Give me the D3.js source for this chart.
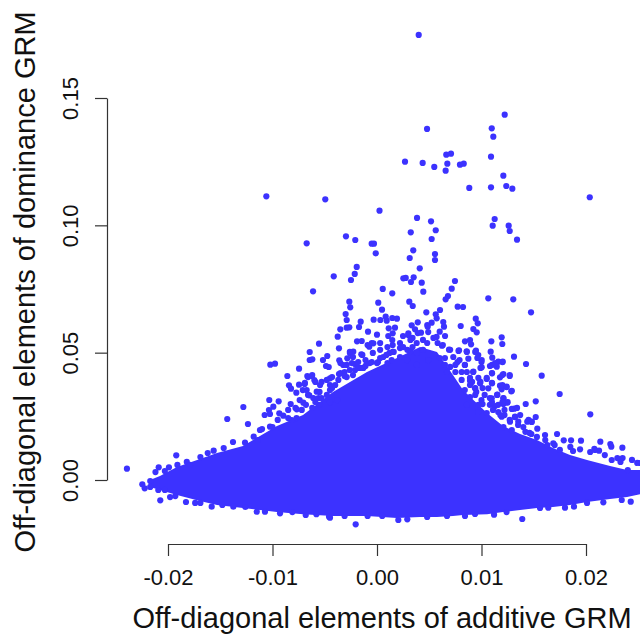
<!DOCTYPE html>
<html>
<head>
<meta charset="utf-8">
<script src="https://cdn.jsdelivr.net/npm/d3@7"></script>
<style>
body { margin: 0; background: #fff; }
svg { display: block; }
text { font-family: "Liberation Sans", Arial, sans-serif; fill: #111; }
</style>
</head>
<body>
<div id="my_dataviz"></div>
<script>
const xTicks = [-0.02, -0.01, 0, 0.01, 0.02];
const yTicks = [0, 0.05, 0.10, 0.15];
const xTitle = "Off-diagonal elements of additive GRM";
const yTitle = "Off-diagonal elements of dominance GRM";

// outline of the solid cloud
const cloudX = [-.02172,-.02077,-.01914,-.01694,-.01531,-.01282,-.01120,-.00957,-.00708,-.00421,-.00096,.00191,.00412,.00574,.00727,.00823,.01053,.01206,.01369,.01531,.01684,.01847,.02010,.02230,.02393,.02565];
const cloudTop = [0,.0016,.0051,.0082,.0106,.0134,.0173,.0212,.0255,.0346,.0424,.0479,.0522,.0503,.0412,.0353,.0263,.0212,.0181,.0157,.0126,.0098,.0079,.0055,.0039,.0039];
const cloudBottom = [-.0027,-.0039,-.0059,-.0082,-.0098,-.0110,-.0118,-.0126,-.0134,-.0141,-.0141,-.0149,-.0145,-.0145,-.0141,-.0137,-.0134,-.0126,-.0118,-.0110,-.0106,-.0098,-.0086,-.0075,-.0067,-.0051];

// single pairs that stand clear of the cloud
const topPairs = [[.00399,.17475],[.01222,.14345],[.01098,.13811],[.01113,.13481],[.00479,.13784],[.01091,.12696],[.00268,.12500],[.00437,.12449],[.00548,.12292],[.00663,.12775],[.00708,.12814],[.00673,.12421],[.00657,.12146],[.00794,.12382],[.00830,.12421],[.01209,.11950],[.01237,.11545],[.01295,.11439],[.01091,.11494],[.00883,.11467],[.02036,.11102],[.00024,.10575],[.00383,.10289],[.00517,.10159],[.00323,.09727],[.00562,.09806],[.00523,.09464],[.00347,.09020],[.00313,.08718],[.00555,.08875],[.00555,.08639],[.01126,.10249],[.01107,.09986],[.01260,.09986],[.01270,.09778],[.01340,.09437],[-.01059,.11141],[-.00495,.11023],[-.00297,.09570],[-.00208,.09425],[-.00673,.09295],[-.00051,.09279],[-.00029,.09279],[-.00012,.08902]];
const leftPairs = [[.00409,.08313],[-.00194,.08365],[-.00213,.08090],[-.00249,.07854],[-.00414,.07999],[-.00612,.07410],[.00252,.07921],[.00275,.07933],[.00351,.07960],[.00325,.07775],[.00428,.07748],[.00055,.07501],[.00146,.07332],[.00443,.07395],[-.00265,.07002],[-.00256,.06782],[.00012,.06963],[.00309,.07002],[.00342,.06833],[.00048,.06688],[-.00300,.06519],[-.00290,.06283],[.00472,.06586],[-.00156,.06216],[-.00172,.06008],[-.00032,.06295],[.00032,.06283],[.00083,.06413],[.00093,.06256],[.00146,.06362],[.00191,.06334],[.00390,.06193],[.00332,.06075],[.00481,.06087],[-.00351,.05918],[-.00376,.05627],[-.00290,.05981],[-.00265,.05997],[-.00086,.05824],[0,.05706],[.00112,.05957],[.00172,.05981],[.00150,.05761],[.00108,.05655],[.00364,.05918],[.00300,.05761],[.00421,.05784],[.00249,.05655],[.00146,.05498],[-.00555,.05353],[-.00644,.05027],[-.00191,.05447],[-.00146,.05459],[-.00035,.05368],[-.00074,.05235],[-.00364,.05172],[-.00644,.04712],[-.00619,.04740],[-.00476,.04869],[-.00517,.04712],[-.00361,.04701],[-.00227,.05038],[-.00258,.04975],[-.00284,.04779],[-.00150,.04936],[-.01021,.04528],[-.00976,.04567],[-.00746,.04371],[-.00488,.04477],[-.00462,.04438],[-.00858,.04084],[-.00667,.04084],[-.00622,.04084],[-.00600,.03927],[-.00842,.03719],[-.00823,.03585],[-.00746,.03742],[-.00772,.03428],[-.00692,.03770],[-.00673,.03534],[-.00648,.03326],[-.01031,.03142],[-.00941,.03091],[-.01279,.02867],[-.00992,.02878],[-.01034,.02749],[-.01075,.02553],[-.01024,.02592],[-.01433,.02395],[-.00826,.02985],[-.00935,.02619],[-.00897,.02525],[-.00768,.02776],[-.00705,.03036],[-.00577,.03468],[-.00545,.03731],[-.00450,.03994],[-.00364,.04163],[-.00323,.04516],[-.00211,.04555]];
const rightPairs = [[.00746,.07815],[.00715,.07512],[.00679,.07226],[.00657,.07096],[.01065,.07135],[.01304,.07096],[.00772,.06806],[.00823,.06794],[.01474,.06586],[.00562,.06507],[.00571,.06350],[.00603,.06676],[.00945,.06334],[.00964,.06154],[.00801,.06048],[.00634,.06205],[.00641,.06020],[.00600,.05824],[.00651,.05655],[.00523,.06177],[.00485,.06020],[.00922,.05930],[.00954,.05800],[.01193,.05604],[.01199,.05341],[.01094,.05447],[.00842,.05447],[.00890,.05498],[.00900,.05329],[.00622,.05274],[.00689,.05117],[.00785,.05093],[.00858,.05054],[.00947,.05078],[.00969,.04909],[.01002,.04712],[.01088,.05038],[.01103,.04803],[.01311,.04842],[.01203,.04646],[.01161,.04646],[.01081,.04477],[.01146,.04449],[.01426,.04555],[.00874,.04763],[.00842,.04516],[.01576,.04096],[.01270,.04084],[.01209,.04163],[.01177,.04033],[.01101,.04190],[.01050,.03966],[.01002,.04426],[.00922,.04253],[.00890,.03900],[.00986,.03797],[.00938,.03601],[.01101,.03797],[.01065,.03601],[.01177,.03703],[.01241,.03664],[.01193,.03562],[.01285,.03483],[.01151,.03350],[.01098,.03208],[.01748,.03377],[.01519,.03091],[.01423,.02985],[.01209,.03208],[.01247,.03036],[.01209,.02985],[.01314,.02800],[.01129,.02906],[.02041,.02580],[.01519,.02474],[.01438,.02289],[.01480,.02289],[.01534,.02015],[.01321,.02486],[.01352,.02289],[.01273,.02289],[.01193,.02486],[.01723,.01806],[.01608,.01767],[.01477,.01806],[.01787,.01559],[.01857,.01559],[.01952,.01543],[.02137,.01504],[.02233,.01414],[.02242,.01308],[.02348,.01268],[.01687,.01441],[.01876,.01139],[.01943,.01206],[.02086,.01178],[.02125,.01151],[.02246,.00785],[.02517,.00668]];
const edgePairs = [[-.02393,.00444],[-.01921,.00970],[-.02089,.00499],[-.01991,.00499],[-.02246,-.00169],[-.02223,-.00326],[-.02074,-.00797],[-.02093,-.00393],[-.01828,-.00864],[-.01235,.02199],[-.01378,.01492],[-.01467,.01257],[-.01563,.01151],[-.01180,.01700],[-.01263,.01465],[-.00816,.02356],[-.01120,.01964],[-.01024,.02093],[-.01582,-.01049],[-.01151,-.01245],[-.00928,-.01308],[-.00682,-.01374],[-.00459,-.01441],[-.01072,-.01245],[-.01375,-.01049],[-.00204,-.01740],[.01390,-.01532],[-.00450,-.01480],[.00204,-.01571],[.00290,-.01543],[.00842,-.01414],[.00938,-.01335],[.01120,-.01363],[.01639,-.01088],[.01799,-.01088],[.01885,-.01049],[.02166,-.00876],[.02342,-.00785],[.02428,-.00852]];

// the mottled band just above the solid cloud
const bandLeft = [[-.0066,.0404],[-.0062,.0412],[-.0059,.0385],[-.0069,.0381],[-.0071,.0353],[-.0066,.0334],[-.0061,.0322],[-.0053,.0385],[-.0048,.0393],[-.0043,.0404],[-.0055,.0346],[-.0048,.0334],[-.0043,.0361],[-.0055,.0295],[-.0045,.0306],[-.0038,.0314],[-.0035,.0420],[-.0029,.0452],[-.0024,.0459],[-.0018,.0463],[-.0026,.0503],[-.0023,.0483],[-.0014,.0491],[-.0009,.0530],[-.0005,.0538],[-.0004,.0499],[.0003,.0511],[.0006,.0483],[.0001,.0463],[.0010,.0522],[.0015,.0530],[.0022,.0518],[.0012,.0499],[.0022,.0483],[.0030,.0569],[.0034,.0558],[.0038,.0538],[.0032,.0503],[.0038,.0499],[.0044,.0511],[.0049,.0581],[.0054,.0558],[.0058,.0538],[-.0021,.0432],[-.0013,.0440],[-.0007,.0459],[-.0029,.0404],[-.0023,.0412],[.0029,.0471],[.0038,.0452],[.0049,.0471],[-.0035,.0459],[0,.0459],[.0010,.0459],[.0014,.0471],[.0029,.0511],[.0022,.0538],[.0003,.0538],[.0034,.0522],[.0044,.0550],[.0039,.0577],[.0048,.0538],[.0057,.0562],[.0032,.0550],[.0015,.0503],[-.0040,.0373],[-.0031,.0424],[-.0045,.0353],[-.0056,.0322],[-.0074,.0314],[-.0062,.0283],[-.0078,.0283],[-.0085,.0275],[-.0016,.0440],[-.0011,.0471],[-.0037,.0393],[-.0031,.0408],[-.0026,.0432],[-.0018,.0440],[-.0011,.0448],[-.0005,.0463],[.0003,.0479],[.0009,.0491],[.0016,.0503],[.0025,.0522],[-.0045,.0373],[-.0053,.0322],[-.0059,.0306],[-.0068,.0295]];
const bandRight = [[.0063,.0530],[.0070,.0511],[.0078,.0507],[.0073,.0483],[.0065,.0479],[.0086,.0503],[.0094,.0503],[.0096,.0479],[.0100,.0463],[.0077,.0463],[.0084,.0452],[.0086,.0424],[.0079,.0471],[.0070,.0444],[.0065,.0452],[.0099,.0440],[.0092,.0424],[.0110,.0452],[.0113,.0459],[.0120,.0463],[.0110,.0420],[.0105,.0401],[.0099,.0385],[.0091,.0385],[.0094,.0361],[.0120,.0412],[.0127,.0412],[.0120,.0373],[.0124,.0365],[.0129,.0350],[.0101,.0361],[.0110,.0381],[.0115,.0334],[.0108,.0322],[.0100,.0314],[.0097,.0295],[.0089,.0326],[.0086,.0295],[.0094,.0334],[.0121,.0322],[.0125,.0306],[.0120,.0306],[.0111,.0275],[.0116,.0267],[.0129,.0279],[.0134,.0283],[.0122,.0255],[.0105,.0263],[.0127,.0236],[.0132,.0247],[.0135,.0216],[.0140,.0208],[.0145,.0236],[.0148,.0228],[.0121,.0208],[.0129,.0196],[.0146,.0185],[.0153,.0169],[.0089,.0373],[.0081,.0393],[.0075,.0424],[.0060,.0479],[.0067,.0424],[.0097,.0401],[.0084,.0353],[.0103,.0334],[.0097,.0267],[.0108,.0295],[.0116,.0295],[.0122,.0275],[.0137,.0255],[.0142,.0189],[.0161,.0157],[.0170,.0137],[.0185,.0130],[.0204,.0110],[.0218,.0098],[.0233,.0071],[.0244,.0079],[.0075,.0452],[.0081,.0424],[.0089,.0401],[.0095,.0346],[.0101,.0298],[.0110,.0306],[.0118,.0255]];
const rimPairs = [[-.0191,.0059],[-.0182,.0071],[-.0169,.0090],[-.0162,.0106],[-.0114,.0157],[-.0110,.0200],[-.0100,.0208],[-.0095,.0236],[-.0085,.0243],[-.0077,.0243],[-.0072,.0275],[-.0217,-.0004],[.0163,.0137],[.0175,.0118],[.0208,.0122],[.0230,.0086],[.0235,.0086],[.0249,.0067],[.0240,.0039],[-.0009,-.0141],[.0005,-.0141],[.0048,-.0145],[.0067,-.0141],[.0124,-.0126],[.0156,-.0110],[.0201,-.0090],[-.0198,-.0067],[-.0174,-.0090],[-.0217,-.0027],[-.0203,-.0039],[-.0193,-.0063],[-.0212,.0031],[-.0203,.0035],[-.0179,.0059],[-.0169,-.0090],[-.0148,-.0098],[-.0126,-.0106],[-.0081,-.0126],[-.0058,-.0134],[-.0031,-.0141]];

const width = 640, height = 635;
const dotColor = "#3c32ff";

const svg = d3.select("#my_dataviz")
    .append("svg")
    .attr("width", width)
    .attr("height", height);

const x = d3.scaleLinear().domain([-0.02, 0.02]).range([168, 586]);
const y = d3.scaleLinear().domain([0, 0.15]).range([480, 98]);

// solid part of the cloud
svg.append("path")
    .datum(cloudX.map((d, i) => ({ x: d, top: cloudTop[i], bottom: cloudBottom[i] })))
    .attr("fill", dotColor)
    .attr("d", d3.area().x(d => x(d.x)).y0(d => y(d.bottom)).y1(d => y(d.top)));

svg.append("g")
    .selectAll("circle")
    .data([...topPairs, ...leftPairs, ...rightPairs, ...edgePairs, ...bandLeft, ...bandRight, ...rimPairs])
    .join("circle")
    .attr("cx", d => x(d[0]))
    .attr("cy", d => y(d[1]))
    .attr("r", 3.1)
    .attr("fill", dotColor);

const xAxis = svg.append("g")
    .attr("transform", "translate(0,544)")
    .call(d3.axisBottom(x).tickValues(xTicks).tickFormat(d => d.toFixed(2)).tickSize(12).tickSizeOuter(0).tickPadding(13));

const yAxis = svg.append("g")
    .attr("transform", "translate(107,0)")
    .call(d3.axisLeft(y).tickValues(yTicks).tickFormat(d => d.toFixed(2)).tickSize(12).tickSizeOuter(0));

xAxis.selectAll("text").style("font-size", "22px");
yAxis.selectAll("text")
    .style("font-size", "22px")
    .attr("text-anchor", "middle")
    .attr("dy", 0)
    .attr("x", 0)
    .attr("y", 0)
    .attr("transform", "translate(-29,0) rotate(-90)");

[xAxis, yAxis].forEach(a => {
    a.selectAll("path,line").attr("stroke", "#333").attr("stroke-width", 1.2);
});

svg.append("text")
    .attr("x", 382)
    .attr("y", 628)
    .attr("text-anchor", "middle")
    .style("font-size", "29px")
    .text(xTitle);

svg.append("text")
    .attr("transform", "translate(35,282) rotate(-90)")
    .attr("text-anchor", "middle")
    .style("font-size", "29px")
    .text(yTitle);
</script>
</body>
</html>
